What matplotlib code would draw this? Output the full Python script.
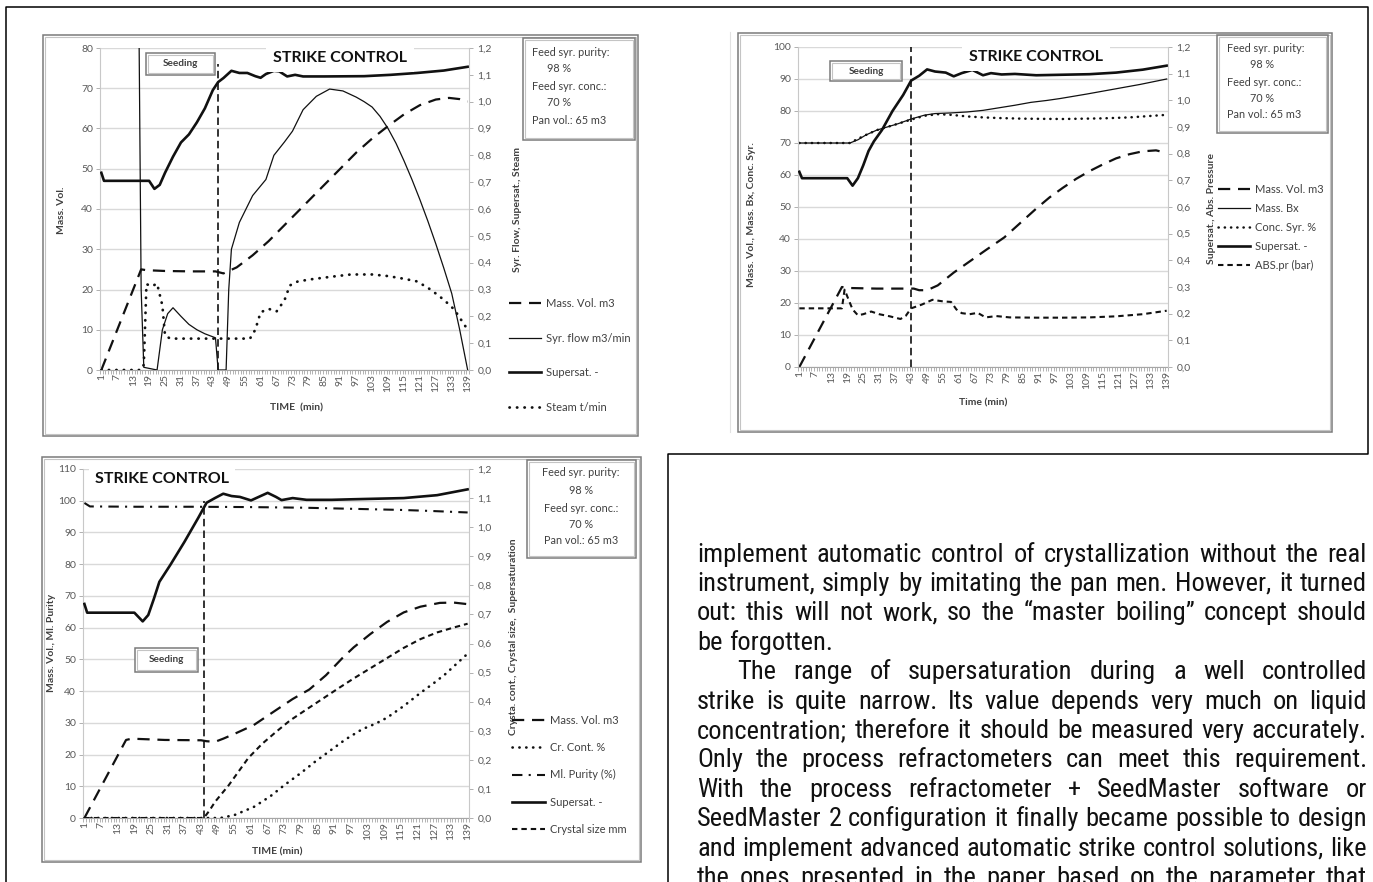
import matplotlib
matplotlib.use("Agg")
import matplotlib.pyplot as plt
from matplotlib.patches import Rectangle
from matplotlib.lines import Line2D
from matplotlib.ticker import FuncFormatter
from matplotlib import font_manager as fm

# ---------------------------------------------------------------- data
time_categories = list(range(1, 140))
x_tick_labels = ["1", "7", "13", "19", "25", "31", "37", "43", "49", "55", "61", "67",
                 "73", "79", "85", "91", "97", "103", "109", "115", "121", "127", "133", "139"]
right_ticks = [0.0, 0.1, 0.2, 0.3, 0.4, 0.5, 0.6, 0.7, 0.8, 0.9, 1.0, 1.1, 1.2]
info_lines = ["Feed syr. purity:", "98 %", "Feed syr. conc.:", "70 %", "Pan vol.: 65 m3"]

# Panel 1 (top left)
p1_massvol_t = [1, 16, 18, 25, 35, 44, 47, 52, 58, 64, 70, 76, 82, 88, 94, 97, 103, 109, 115, 121, 127, 132, 136, 139]
p1_massvol = [0, 25, 24.8, 24.6, 24.5, 24.5, 24.0, 25.5, 28.5, 32, 36, 40, 44, 48, 52, 54, 57.5, 60.6, 63.5, 65.8, 67.2, 67.6, 67.3, 66.7]
p1_syrflow_t = [1, 15, 16, 17, 22, 24, 26, 28, 31, 34, 37, 40, 44, 45, 48, 49, 50, 53, 58, 63, 66, 70, 73, 77, 82, 87, 92, 97,
                100, 103, 106, 109, 112, 115, 118, 121, 124, 127, 130, 133, 136, 139]
p1_syrflow = [1.5, 1.5, 0.3, 0.01, 0.0, 0.15, 0.21, 0.232, 0.2, 0.17, 0.15, 0.135, 0.12, 0.0, 0.0, 0.3, 0.45, 0.55, 0.65, 0.71,
              0.8, 0.85, 0.89, 0.97, 1.02, 1.047, 1.04, 1.017, 1.0, 0.98, 0.945, 0.9, 0.845, 0.78, 0.71, 0.635, 0.555, 0.47,
              0.38, 0.285, 0.15, 0.0]
p1_supersat_t = [1, 2, 19, 21, 23, 25, 28, 31, 34, 37, 40, 43, 45, 47, 50, 53, 56, 59, 61, 63, 66, 68, 71, 74, 77, 85, 100,
                 110, 120, 130, 139]
p1_supersat = [0.735, 0.705, 0.705, 0.675, 0.69, 0.735, 0.795, 0.848, 0.878, 0.923, 0.975, 1.043, 1.073, 1.088, 1.115,
               1.107, 1.107, 1.095, 1.089, 1.103, 1.115, 1.113, 1.094, 1.1, 1.094, 1.094, 1.095, 1.1, 1.107, 1.116, 1.13]
p1_steam_t = [1, 16, 17, 18, 20, 22, 24, 25, 27, 57, 59, 61, 64, 67, 70, 72, 75, 80, 88, 95, 103, 109, 115, 120, 125, 130,
              134, 137, 139]
p1_steam = [0, 0, 0.02, 0.32, 0.312, 0.322, 0.24, 0.128, 0.117, 0.117, 0.15, 0.215, 0.228, 0.218, 0.26, 0.315, 0.33,
            0.338, 0.348, 0.356, 0.356, 0.35, 0.34, 0.33, 0.3, 0.262, 0.225, 0.18, 0.15]
p1_seed_t = [45, 45]
p1_seed_v = [0, 76]
p1_legend = ["Mass. Vol. m3", "Syr. flow m3/min", "Supersat. -", "Steam t/min"]

# Panel 2 (top right)
p2_massvol_t = [1, 17, 19, 30, 44, 46, 49, 53, 59, 65, 71, 78, 84, 90, 95, 100, 105, 110, 115, 120, 125, 130, 135, 139]
p2_massvol = [0, 25, 24.7, 24.5, 24.5, 24, 24, 25.5, 29.5, 33, 36.5, 40.5, 45, 49.5, 53, 56, 58.8, 61.2, 63.3, 65.2, 66.5,
              67.4, 67.7, 66.9]
p2_massbx_t = [1, 20, 23, 26, 30, 34, 38, 43, 48, 52, 58, 64, 70, 76, 82, 88, 94, 99, 109, 119, 129, 139]
p2_massbx = [70, 70, 71, 72.5, 74, 75, 76, 77.5, 78.7, 79.2, 79.4, 79.7, 80.2, 81, 81.8, 82.7, 83.3, 83.9, 85.3, 86.8,
             88.3, 90]
p2_conc_t = [1, 20, 23, 26, 30, 34, 38, 43, 48, 53, 58, 64, 70, 76, 85, 100, 115, 125, 132, 139]
p2_conc = [70, 70, 71.3, 72.5, 74, 75, 76, 77.3, 78.5, 79, 78.8, 78.3, 78, 77.8, 77.6, 77.5, 77.7, 78, 78.4, 78.8]
p2_supersat_t = [1, 2, 19, 21, 23, 25, 27, 29, 32, 36, 40, 43, 46, 49, 52, 56, 59, 62, 66, 70, 73, 77, 82, 90, 100, 110,
                 120, 130, 139]
p2_supersat = [0.732, 0.708, 0.708, 0.68, 0.708, 0.756, 0.81, 0.846, 0.888, 0.96, 1.02, 1.074, 1.092, 1.116, 1.108, 1.104,
               1.09, 1.102, 1.114, 1.094, 1.102, 1.097, 1.099, 1.094, 1.096, 1.098, 1.104, 1.115, 1.13]
p2_abs_t = [1, 17, 18, 19, 21, 23, 25, 28, 31, 35, 39, 41, 43, 47, 51, 55, 58, 60, 62, 65, 68, 71, 75, 80, 90, 100, 110,
            120, 130, 139]
p2_abs = [0.22, 0.22, 0.29, 0.265, 0.216, 0.194, 0.198, 0.208, 0.198, 0.19, 0.18, 0.192, 0.22, 0.234, 0.252, 0.246, 0.244,
          0.216, 0.202, 0.198, 0.203, 0.186, 0.191, 0.186, 0.185, 0.185, 0.186, 0.19, 0.198, 0.211]
p2_seed_t = [43, 43]
p2_seed_v = [0, 100]
p2_legend = ["Mass. Vol. m3", "Mass. Bx", "Conc. Syr. %", "Supersat. -", "ABS.pr (bar)"]

# Panel 3 (bottom left)
p3_massvol_t = [1, 16, 18, 30, 43, 45, 48, 51, 55, 62, 70, 76, 82, 88, 94, 98, 104, 110, 116, 122, 129, 134, 139]
p3_massvol = [0, 24.6, 25, 24.6, 24.5, 24.2, 24, 25, 26.5, 29.3, 34, 37.5, 40.5, 45, 50.5, 53.8, 58, 61.8, 64.8, 66.6,
              67.8, 67.9, 67.4]
p3_purity_t = [1, 3, 20, 40, 60, 80, 100, 115, 125, 139]
p3_purity = [99.3, 98.2, 98.1, 98.1, 98.0, 97.8, 97.4, 97.1, 96.8, 96.3]
p3_supersat_t = [1, 2, 19, 22, 24, 26, 28, 32, 37, 42, 45, 48, 51, 54, 57, 61, 64, 67, 70, 72, 76, 81, 90, 98, 116, 128, 139]
p3_supersat = [0.736, 0.706, 0.706, 0.676, 0.698, 0.753, 0.812, 0.871, 0.949, 1.032, 1.084, 1.1, 1.115, 1.107, 1.104,
               1.092, 1.105, 1.118, 1.104, 1.093, 1.1, 1.094, 1.094, 1.096, 1.1, 1.11, 1.13]
p3_crcont_t = [1, 50, 55, 62, 68, 73, 79, 84, 90, 95, 101, 106, 110, 116, 122, 127, 131, 135, 139]
p3_crcont = [0, 0, 0.01, 0.038, 0.075, 0.113, 0.155, 0.193, 0.235, 0.27, 0.305, 0.325, 0.345, 0.385, 0.43, 0.465, 0.495,
             0.53, 0.565]
p3_size_t = [1, 44, 46, 48, 53, 60, 65, 70, 75, 80, 86, 92, 98, 104, 110, 116, 122, 128, 134, 139]
p3_size = [0, 0, 0.025, 0.055, 0.113, 0.206, 0.255, 0.296, 0.335, 0.367, 0.405, 0.443, 0.48, 0.515, 0.55, 0.585, 0.615,
           0.638, 0.655, 0.668]
p3_seed_t = [44, 44]
p3_seed_v = [0, 100]
p3_legend = ["Mass. Vol. m3", "Cr. Cont. %", "Ml. Purity (%)", "Supersat. -", "Crystal size mm"]

# Body text (right column)
para1 = [
    "implement automatic control of crystallization without the real",
    "instrument, simply by imitating the pan men. However, it turned",
    "out: this will not work, so the \u201cmaster boiling\u201d concept should",
    "be forgotten.",
]
para2 = [
    "The range of supersaturation during a well controlled",
    "strike is quite narrow. Its value depends very much on liquid",
    "concentration; therefore it should be measured very accurately.",
    "Only the process refractometers can meet this requirement.",
    "With the process refractometer + SeedMaster software or",
    "SeedMaster 2 configuration it finally became possible to design",
    "and implement advanced automatic strike control solutions, like",
    "the ones presented in the paper based on the parameter that",
]

# ---------------------------------------------------------------- fonts
def has_font(name):
    try:
        fm.findfont(fm.FontProperties(family=name), fallback_to_default=False)
        return True
    except Exception:
        return False

chart_font = next((f for f in ["Lato", "Open Sans", "DejaVu Sans"] if has_font(f)), "DejaVu Sans")
body_font = next((f for f in ["Liberation Sans Narrow", "Arial Narrow", "Nimbus Sans Narrow", "Roboto Condensed",
                              "Liberation Sans", "DejaVu Sans"] if has_font(f)), "DejaVu Sans")
plt.rcParams["font.family"] = [chart_font, "DejaVu Sans"]

W, H = 1373, 882
DPI = 100
fig = plt.figure(figsize=(W / DPI, H / DPI), dpi=DPI)
fig.patch.set_facecolor("white")

INK = "#111111"
LBL = "#595959"
DARK = "#404040"
TICK_FS = 7.5
LEG_FS = 8
AXL_FS = 7.5


def fx(x):
    return x / W


def fy(y):
    return 1.0 - y / H


def px_rect(x0, y0, x1, y1, ec, lw, fc=None, z=3):
    r = Rectangle((fx(x0), fy(y1)), (x1 - x0) / W, (y1 - y0) / H, transform=fig.transFigure,
                  facecolor=fc if fc else "none", edgecolor=ec, linewidth=lw, zorder=z)
    fig.add_artist(r)
    return r


def double_box(x0, y0, x1, y1, fc=None, z=3):
    px_rect(x0, y0, x1, y1, "#7a7a7a", 1.1, fc, z)
    px_rect(x0 + 2, y0 + 2, x1 - 2, y1 - 2, "#c4c4c4", 0.8, None, z)


def px_line(xs, ys, color="black", lw=1.1, z=4):
    fig.add_artist(Line2D([fx(x) for x in xs], [fy(y) for y in ys], transform=fig.transFigure,
                          color=color, linewidth=lw, zorder=z))


def ftext(x, y, s, **kw):
    kw.setdefault("fontsize", AXL_FS)
    kw.setdefault("color", DARK)
    return fig.text(fx(x), fy(y), s, **kw)


def make_panel(x0, y0, x1, y1, ymax, ystep):
    ax = fig.add_axes([fx(x0), fy(y1), (x1 - x0) / W, (y1 - y0) / H])
    ax2 = ax.twinx()
    n = len(time_categories)
    ax.set_xlim(0.5, n + 0.5)
    ax.set_ylim(0, ymax)
    ax2.set_ylim(0, 1.2)
    ax.set_yticks(list(range(0, ymax + 1, ystep)))
    ax2.set_yticks(right_ticks)
    ax2.yaxis.set_major_formatter(FuncFormatter(lambda v, p: f"{v:.1f}".replace(".", ",")))
    ax.set_xticks([int(s) for s in x_tick_labels])
    ax.set_xticklabels(x_tick_labels, rotation=90)
    ax.set_xticks([t - 0.5 for t in time_categories] + [n + 0.5], minor=True)
    ax.tick_params(axis="x", which="major", length=0, pad=3, labelsize=TICK_FS, labelcolor=LBL)
    ax.tick_params(axis="x", which="minor", length=3, width=0.6, color="#a6a6a6")
    ax.tick_params(axis="y", length=3, width=0.7, color="#b0b0b0", labelsize=TICK_FS, labelcolor=LBL, pad=2)
    ax2.tick_params(axis="y", length=3, width=0.7, color="#b0b0b0", labelsize=TICK_FS, labelcolor=LBL, pad=3)
    ax.yaxis.grid(True, color="#d9d9d9", linewidth=1.0)
    ax.set_axisbelow(True)
    for a in (ax, ax2):
        a.spines["top"].set_visible(False)
    ax.spines["right"].set_visible(False)
    ax2.spines["left"].set_visible(False)
    ax2.spines["bottom"].set_visible(False)
    ax.spines["left"].set_color("#c8c8c8")
    ax.spines["bottom"].set_color("#a6a6a6")
    ax2.spines["right"].set_color("#c8c8c8")
    ax.set_facecolor("white")
    return ax, ax2


def add_legend(ax2, handles, labels, x, y, spacing, hlen=2.9):
    ax2.legend(handles, labels, loc="upper left", bbox_to_anchor=(fx(x), fy(y)),
               bbox_transform=fig.transFigure, frameon=False, fontsize=LEG_FS, handlelength=hlen,
               handletextpad=0.45, labelspacing=spacing, borderpad=0, borderaxespad=0, labelcolor=DARK)


LONG = (0, (5.5, 3.5))
SHORT = (0, (2.6, 1.9))
DOT = (0, (0.1, 2.6))
SEED = (0, (4.5, 2.5))

# ---------------------------------------------------------------- outer frame
px_line([6, 6, 1368, 1368, 668, 668], [882, 7, 7, 454, 454, 882], color="black", lw=1.1)
px_line([730, 730], [32, 432], color="#e2e2e2", lw=0.8, z=2)

# ---------------------------------------------------------------- panel 1
double_box(43, 35, 638, 436)
ax, ax2 = make_panel(100, 48, 469, 370, 80, 10)
l1, = ax.plot(p1_massvol_t, p1_massvol, color=INK, lw=1.6, linestyle=LONG)
l2, = ax2.plot(p1_syrflow_t, p1_syrflow, color=INK, lw=0.9)
l3, = ax2.plot(p1_supersat_t, p1_supersat, color=INK, lw=1.9)
l4, = ax2.plot(p1_steam_t, p1_steam, color=INK, lw=2.0, linestyle=DOT, dash_capstyle="round")
ax.plot(p1_seed_t, p1_seed_v, color=INK, lw=1.2, linestyle=SEED)
add_legend(ax2, [l1, l2, l3, l4], p1_legend, 509, 298, 2.13)
ftext(62, 210, "Mass. Vol.", rotation=90, ha="center", va="center", fontweight="bold")
ftext(517, 209, "Syr. Flow, Supersat., Steam", rotation=90, ha="center", va="center", fontweight="bold")
ftext(297, 408, "TIME  (min)", ha="center", va="center", fontweight="bold")
ftext(340, 58, "STRIKE CONTROL", ha="center", va="center", fontweight="bold", fontsize=11.5, color=INK,
      bbox=dict(facecolor="white", edgecolor="none", pad=5), zorder=6)
double_box(146, 53, 215, 75, fc="white", z=5)
ftext(180.5, 64, "Seeding", ha="center", va="center", fontweight="bold", fontsize=7.2, zorder=6)
double_box(523, 38, 635, 140)
for s, (xx, yy) in zip(info_lines, [(532, 53), (547, 69), (532, 87), (547, 103), (532, 120)]):
    ftext(xx, yy, s, ha="left", va="center", fontsize=7.8)

# ---------------------------------------------------------------- panel 2
double_box(738, 33, 1332, 432)
ax, ax2 = make_panel(798, 47, 1168, 367, 100, 10)
m1, = ax.plot(p2_massvol_t, p2_massvol, color=INK, lw=1.6, linestyle=LONG)
m2, = ax.plot(p2_massbx_t, p2_massbx, color=INK, lw=0.9)
m3, = ax.plot(p2_conc_t, p2_conc, color=INK, lw=1.8, linestyle=(0, (0.1, 2.4)), dash_capstyle="round")
m4, = ax2.plot(p2_supersat_t, p2_supersat, color=INK, lw=1.9)
m5, = ax2.plot(p2_abs_t, p2_abs, color=INK, lw=1.5, linestyle=SHORT)
ax.plot(p2_seed_t, p2_seed_v, color=INK, lw=1.2, linestyle=SEED)
add_legend(ax2, [m1, m2, m3, m4, m5], p2_legend, 1218, 184, 0.71)
ftext(752, 215, "Mass. Vol., Mass. Bx, Conc. Syr.", rotation=90, ha="center", va="center", fontweight="bold")
ftext(1212, 208, "Supersat., Abs. Pressure", rotation=90, ha="center", va="center", fontweight="bold")
ftext(983, 403, "Time (min)", ha="center", va="center", fontweight="bold")
ftext(1036, 57, "STRIKE CONTROL", ha="center", va="center", fontweight="bold", fontsize=11.5, color=INK,
      bbox=dict(facecolor="white", edgecolor="none", pad=5), zorder=6)
double_box(830, 61, 902, 81, fc="white", z=5)
ftext(866, 71, "Seeding", ha="center", va="center", fontweight="bold", fontsize=7.2, zorder=6)
double_box(1217, 35, 1328, 133)
for s, (xx, yy) in zip(info_lines, [(1227, 48), (1250, 65), (1227, 83), (1250, 98), (1227, 115)]):
    ftext(xx, yy, s, ha="left", va="center", fontsize=7.8)

# ---------------------------------------------------------------- panel 3
double_box(42, 457, 641, 862)
ax, ax2 = make_panel(83, 469, 469, 818, 110, 10)
n1, = ax.plot(p3_massvol_t, p3_massvol, color=INK, lw=1.6, linestyle=LONG)
n2, = ax2.plot(p3_crcont_t, p3_crcont, color=INK, lw=1.9, linestyle=(0, (0.1, 2.5)), dash_capstyle="round")
n3, = ax.plot(p3_purity_t, p3_purity, color=INK, lw=1.5, linestyle=(0, (5, 3, 1, 3)))
n4, = ax2.plot(p3_supersat_t, p3_supersat, color=INK, lw=1.9)
n5, = ax2.plot(p3_size_t, p3_size, color=INK, lw=1.5, linestyle=SHORT)
ax.plot(p3_seed_t, p3_seed_v, color=INK, lw=1.2, linestyle=SEED)
add_legend(ax2, [n1, n2, n3, n4, n5], p3_legend, 512, 715, 1.46, hlen=3.0)
ftext(52, 643, "Mass. Vol., Ml. Purity", rotation=90, ha="center", va="center", fontweight="bold")
ftext(513, 637, "Crysta. cont., Crystal size,  Supersaturation", rotation=90, ha="center", va="center",
      fontweight="bold")
ftext(277, 852, "TIME (min)", ha="center", va="center", fontweight="bold")
ftext(162, 479, "STRIKE CONTROL", ha="center", va="center", fontweight="bold", fontsize=11.5, color=INK,
      bbox=dict(facecolor="white", edgecolor="none", pad=4), zorder=6)
double_box(135, 648, 198, 672, fc="white", z=5)
ftext(166.5, 660, "Seeding", ha="center", va="center", fontweight="bold", fontsize=7.2, zorder=6)
double_box(527, 460, 636, 558)
for s, yy in zip(info_lines, [473, 490, 508, 525, 541]):
    ftext(581, yy, s, ha="center", va="center", fontsize=7.8)

# ---------------------------------------------------------------- body text (justified)
renderer = fig.canvas.get_renderer()


def measure(s, fs):
    t = fig.text(0, 0, s, fontsize=fs, family=body_font)
    w = t.get_window_extent(renderer=renderer).width
    t.remove()
    return w


TX_L, TX_R = 697, 1367
INDENT = 40
lines = [(s, 0, i < len(para1) - 1) for i, s in enumerate(para1)] + \
        [(s, INDENT if i == 0 else 0, True) for i, s in enumerate(para2)]

base = 10.0
space_base = measure("a a", base) - measure("aa", base)
ratios = []
for s, ind, just in lines:
    words = s.split()
    nat = sum(measure(w, base) for w in words) + (len(words) - 1) * space_base
    ratios.append((TX_R - TX_L - ind) / nat)
fs = min(base * min(ratios) * 0.99, 20.0)
fs_px = fs * DPI / 72.0
space = measure("a a", fs) - measure("aa", fs)

y_first, y_step = 552, 29.4
for i, (s, ind, just) in enumerate(lines):
    words = s.split()
    widths = [measure(w, fs) for w in words]
    x = TX_L + ind
    if just and len(words) > 1:
        gap = (TX_R - TX_L - ind - sum(widths)) / (len(words) - 1)
    else:
        gap = space
    base_y = y_first + i * y_step + 0.36 * fs_px
    for w, wd in zip(words, widths):
        fig.text(fx(x), fy(base_y), w, fontsize=fs, family=body_font, ha="left", va="baseline", color=INK)
        x += wd + gap

fig.savefig("out.png", dpi=DPI, facecolor="white")
